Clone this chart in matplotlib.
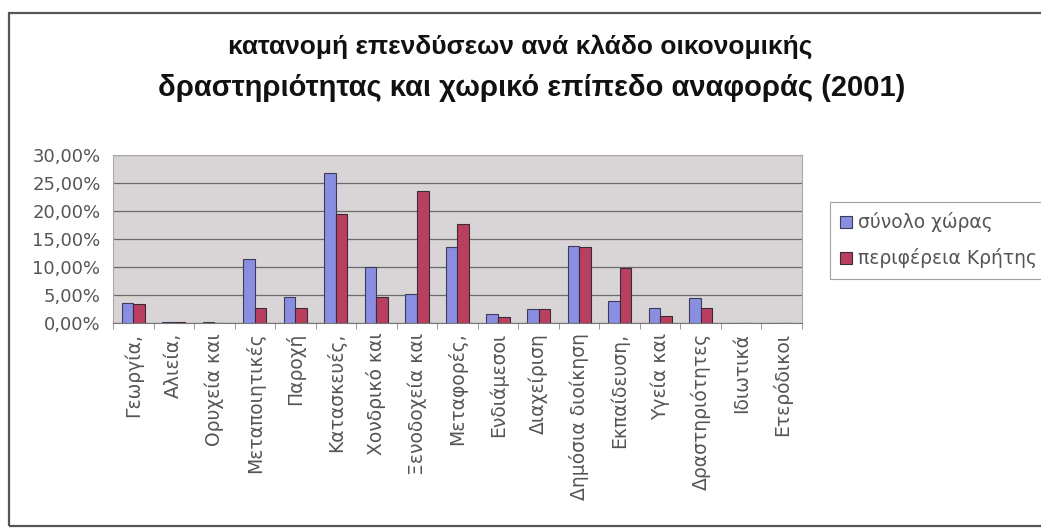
import matplotlib
matplotlib.use("Agg")
import matplotlib.pyplot as plt
import numpy as np
from matplotlib.patches import Rectangle
from matplotlib.ticker import FuncFormatter, MultipleLocator

categories = ["Γεωργία,", "Αλιεία,", "Ορυχεία και", "Μεταποιητικές", "Παροχή",
              "Κατασκευές,", "Χονδρικό και", "Ξενοδοχεία και", "Μεταφορές,",
              "Ενδιάμεσοι", "Διαχείριση", "Δημόσια διοίκηση", "Εκπαίδευση,",
              "Υγεία και", "Δραστηριότητες", "Ιδιωτικά", "Ετερόδικοι"]
country = [3.6, 0.2, 0.2, 11.4, 4.7, 26.7, 10.0, 5.2, 13.5, 1.6, 2.5, 13.7, 3.9, 2.7, 4.5, 0.0, 0.0]
crete = [3.4, 0.15, 0.05, 2.7, 2.7, 19.4, 4.6, 23.5, 17.6, 1.0, 2.5, 13.5, 9.8, 1.2, 2.6, 0.0, 0.0]
series_names = ["σύνολο χώρας", "περιφέρεια Κρήτης"]
title_lines = ["κατανομή επενδύσεων ανά κλάδο οικονομικής",
               "δραστηριότητας και χωρικό επίπεδο αναφοράς (2001)"]

plt.rcParams['font.family'] = ['DejaVu Sans']

W, H = 1041, 528
fig = plt.figure(figsize=(W / 100, H / 100), dpi=100)
fig.patch.set_facecolor('white')

# outer chart border
fig.add_artist(Rectangle((9 / W, 2 / H), 1.2, (H - 15) / H, transform=fig.transFigure,
                         fill=False, edgecolor='#555555', linewidth=1.6))

left, right, top, bottom = 113, 802, 155, 323
ax = fig.add_axes([left / W, 1 - bottom / H, (right - left) / W, (bottom - top) / H])
ax.set_facecolor('#d9d5d6')

x = np.arange(len(categories))
bw = 0.2857
ax.bar(x - bw / 2, country, bw, color='#8a8ee0', edgecolor='#3a3a5a', linewidth=0.8,
       label=series_names[0], zorder=3)
ax.bar(x + bw / 2, crete, bw, color='#b8405e', edgecolor='#3a2a3a', linewidth=0.8,
       label=series_names[1], zorder=3)

ax.set_xlim(-0.5, len(categories) - 0.5)
ax.set_ylim(0, 30)
ax.yaxis.set_major_locator(MultipleLocator(5))
ax.yaxis.set_major_formatter(FuncFormatter(lambda v, p: f"{v:.2f}%".replace('.', ',')))
ax.grid(axis='y', color='#6a6a6a', linewidth=0.9, zorder=1)
ax.tick_params(axis='y', length=0, labelsize=13, labelcolor='#555555', pad=9)

ax.set_xticks(x)
ax.set_xticklabels(categories, rotation=90, fontsize=13.5, color='#555555', va='top')
ax.tick_params(axis='x', length=0, pad=7)
ax.set_xticks(np.arange(-0.5, len(categories), 1), minor=True)
ax.tick_params(axis='x', which='minor', length=4, color='#888888')

for s in ['top', 'right', 'left']:
    ax.spines[s].set_color('#aaaaaa')
    ax.spines[s].set_linewidth(0.8)
ax.spines['bottom'].set_color('#777777')

fig.text(0.5, 1 - 47 / H, title_lines[0], ha='center', va='center', family='Liberation Sans',
         fontsize=19, fontweight='bold', color='#111111')
fig.text(532 / W, 1 - 88 / H, title_lines[1], ha='center', va='center', family='Liberation Sans',
         fontsize=21, fontweight='bold', color='#111111')

leg = fig.legend(loc='upper left', bbox_to_anchor=(830 / W, 1 - 202 / H),
                 frameon=True, fontsize=13.5, handlelength=0.6, handleheight=0.6,
                 handletextpad=0.35, borderpad=0.55, labelspacing=0.85, fancybox=False,
                 labelcolor='#555555', borderaxespad=0)
leg.get_frame().set_edgecolor('#888888')
leg.get_frame().set_linewidth(0.8)

fig.savefig("out.png", dpi=100)
